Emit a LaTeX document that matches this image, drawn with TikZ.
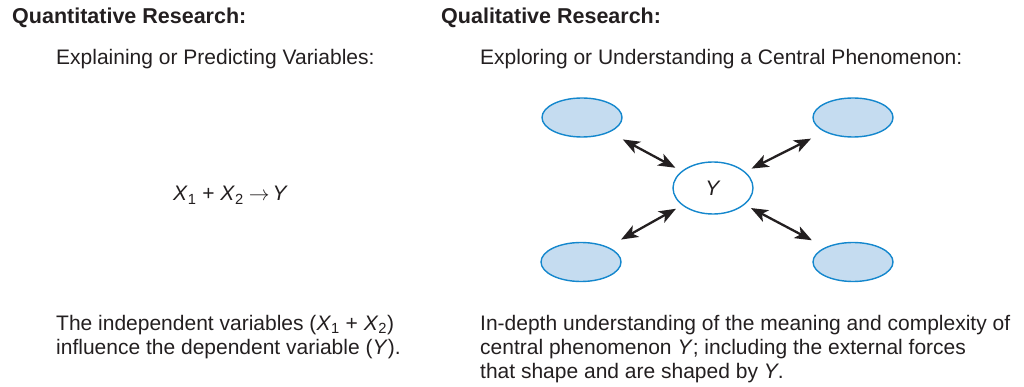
\documentclass[tikz,border=0pt]{standalone}
\usepackage{fontspec}
\setmainfont{Liberation Sans}
\usetikzlibrary{shapes.geometric,arrows.meta}
\definecolor{ink}{RGB}{35,31,32}
\definecolor{efill}{RGB}{197,220,240}
\definecolor{edraw}{RGB}{20,135,205}
\tikzset{
  txt/.style={anchor=base west, inner sep=0pt, text=ink, font=\fontsize{21}{24}\selectfont},
  ttl/.style={txt, font=\fontsize{21.5}{24}\selectfont\bfseries},
  blob/.style={ellipse, draw=edraw, fill=efill, line width=1.4pt, minimum width=80pt, minimum height=39pt, inner sep=0pt},
  cen/.style={ellipse, draw=edraw, fill=white, line width=1.4pt, minimum width=80pt, minimum height=52pt, inner sep=0pt, text=ink, font=\fontsize{21}{24}\selectfont},
  link/.style={{Stealth[length=17pt,width=13pt,inset=4.5pt]}-{Stealth[length=17pt,width=13pt,inset=4.5pt]}, line width=2.3pt, draw=ink, shorten <=15pt, shorten >=7pt}
}
\begin{document}
\begin{tikzpicture}[x=1pt,y=-1pt]
\useasboundingbox (0,0) rectangle (1024,387);
\node[ttl] (t1) at (12,24) {Quantitative Research:};
\node[ttl] (t2) at (441,24) {Qualitative Research:};
\node[txt] (s1) at (56,65) {Explaining or Predicting Variables:};
\node[txt] (s2) at (480,65) {Exploring or Understanding a Central Phenomenon:};
\node[txt] (f) at (173,201) {\textit{X}\textsubscript{1} + \textit{X}\textsubscript{2}\hspace{5pt}$\rightarrow$\hspace{3pt}\textit{Y}};
\node[txt] (l1) at (56,330) {The independent variables (\textit{X}\textsubscript{1} + \textit{X}\textsubscript{2})};
\node[txt] (l2) at (56,354) {influence the dependent variable (\textit{Y}).};
\node[txt] (r1) at (480,330) {In-depth understanding of the meaning and complexity of};
\node[txt] (r2) at (480,354) {central phenomenon \textit{Y}; including the external forces};
\node[txt] (r3) at (480,378) {that shape and are shaped by \textit{Y}.};
\node[cen] (Y) at (713,188) {\textit{Y}};
\node[blob] (tl) at (582,117.5) {};
\node[blob] (tr) at (853,117.5) {};
\node[blob] (bl) at (581,262) {};
\node[blob] (br) at (853,262) {};
\draw[link] (tl) -- (Y);
\draw[link] (tr) -- (Y);
\draw[link] (bl) -- (Y);
\draw[link] (br) -- (Y);
\end{tikzpicture}
\end{document}
